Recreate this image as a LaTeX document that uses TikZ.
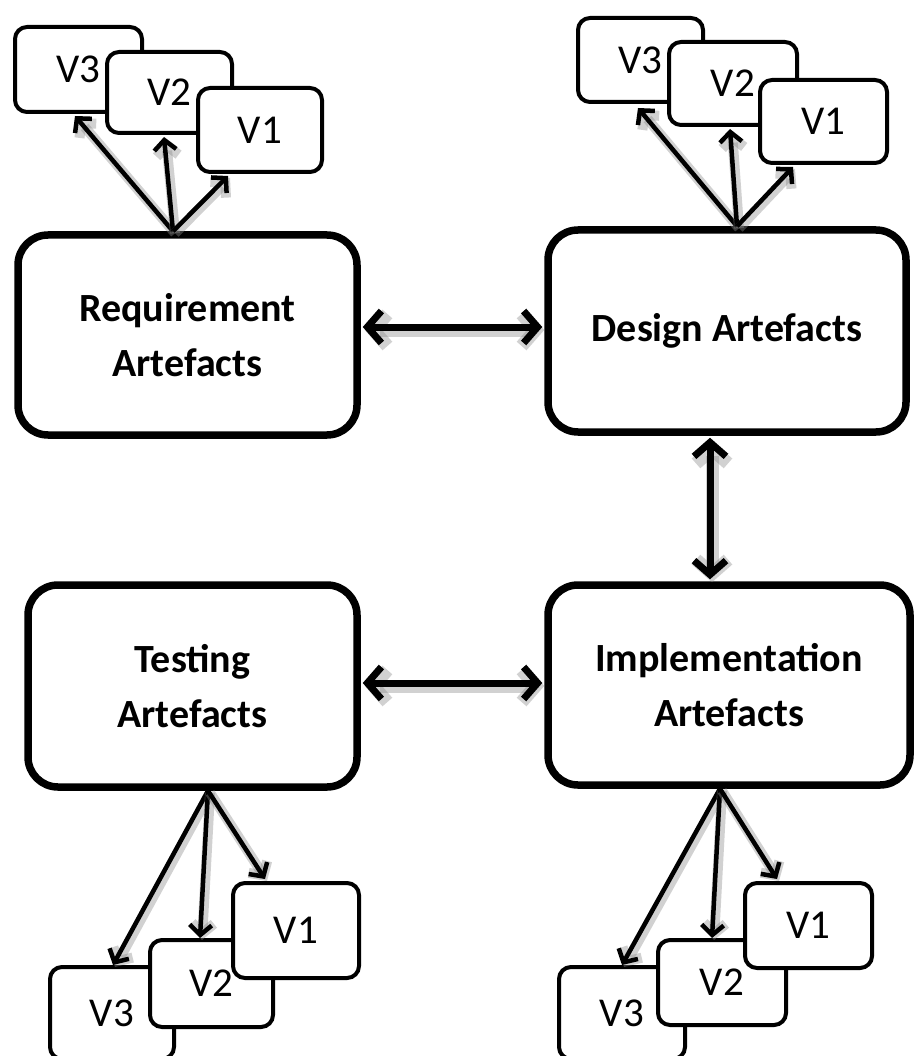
\documentclass[tikz,border=0pt]{standalone}
\usepackage{fontspec}
\setmainfont{Carlito}
\usetikzlibrary{arrows.meta}
\begin{document}
\begin{tikzpicture}[x=1pt,y=-1pt,
  artefact/.style={draw, line width=7.5pt, rounded corners=30pt, fill=white,
    align=center, inner sep=0pt, font=\bfseries\fontsize{40}{55}\selectfont},
  version/.style={draw, line width=4pt, rounded corners=12pt, fill=white,
    inner sep=0pt, font=\fontsize{41}{44}\selectfont},
  link/.style={line width=7pt, shorten <=2pt, shorten >=2pt,
    {Straight Barb[length=14pt,width=32pt]}-{Straight Barb[length=14pt,width=32pt]},
    preaction={draw=black!45, opacity=0.4, line width=13pt,
      transform canvas={shift={(2pt,-3pt)}}}},
  derive/.style={line width=4.5pt,
    -{Straight Barb[length=10pt,width=22pt]},
    preaction={draw=black!45, opacity=0.4, line width=10pt,
      transform canvas={shift={(2pt,-2pt)}}}}
]
\clip (0,0) rectangle (915,1056);
\fill[white] (0,0) rectangle (915,1056);

% main artefact groups
\node[artefact, minimum width=339pt, minimum height=200pt] (req) at (187.5,335) {Requirement\\Artefacts};
\node[artefact, minimum width=358pt, minimum height=202pt] (des) at (727,331) {Design Artefacts};
\node[artefact, minimum width=329pt, minimum height=202pt] (tst) at (192.5,686) {Testing\\Artefacts};
\node[artefact, minimum width=362pt, minimum height=200pt] (imp) at (729,685) {Implementation\\Artefacts};

% version stacks
\node[version, minimum width=127pt, minimum height=85pt] (tl3) at (78.5,69.5) {\raisebox{-3pt}{V3}};
\node[version, minimum width=125pt, minimum height=81pt] (tl2) at (169.5,92.5) {\raisebox{-3pt}{V2}};
\node[version, minimum width=124pt, minimum height=84pt] (tl1) at (260,130) {\raisebox{-3pt}{V1}};

\node[version, minimum width=125pt, minimum height=84pt] (tr3) at (640.5,60) {\raisebox{-3pt}{V3}};
\node[version, minimum width=128pt, minimum height=83pt] (tr2) at (733,83.5) {\raisebox{-3pt}{V2}};
\node[version, minimum width=127pt, minimum height=83pt] (tr1) at (823.5,121.5) {\raisebox{-3pt}{V1}};

\node[version, minimum width=124pt, minimum height=92pt] (bl3) at (112,1013) {V3};
\node[version, minimum width=123pt, minimum height=87pt] (bl2) at (211.5,983.5) {V2};
\node[version, minimum width=126pt, minimum height=95pt] (bl1) at (296,930.5) {V1};

\node[version, minimum width=126pt, minimum height=92pt] (br3) at (622,1013) {V3};
\node[version, minimum width=128pt, minimum height=85pt] (br2) at (722,982.5) {V2};
\node[version, minimum width=127pt, minimum height=85pt] (br1) at (808.5,925.5) {V1};

% fan-out origins on the artefact borders
\coordinate (rqo) at ([xshift=-14.5pt]req.north);
\coordinate (dso) at ([xshift=10pt]des.north);
\coordinate (tso) at ([xshift=15.5pt]tst.south);
\coordinate (imo) at ([xshift=-9pt]imp.south);

% versions derived from each artefact group
\draw[derive] (rqo) -- ([xshift=-3.5pt,yshift=-2pt]tl3.south);
\draw[derive] (rqo) -- ([xshift=-5.5pt,yshift=-2pt]tl2.south);
\draw[derive] (rqo) -- ([xshift=-32pt,yshift=-2pt]tl1.south);

\draw[derive] (dso) -- ([xshift=-2.5pt,yshift=-4pt]tr3.south);
\draw[derive] (dso) -- ([xshift=-3pt,yshift=-2pt]tr2.south);
\draw[derive] (dso) -- ([xshift=-30.5pt,yshift=-2pt]tr1.south);

\draw[derive] (tso) -- ([xshift=1pt]bl3.north);
\draw[derive] (tso) -- ([xshift=-11.5pt]bl2.north);
\draw[derive] (tso) -- ([xshift=-31pt,yshift=2pt]bl1.north);

\draw[derive] (imo) -- (br3.north);
\draw[derive] (imo) -- ([xshift=-10pt]br2.north);
\draw[derive] (imo) -- ([xshift=-31.5pt,yshift=2pt]br1.north);

% traceability links between groups
\draw[link] ([yshift=8pt]req.east) -- ([yshift=4pt]des.west);
\draw[link] ([xshift=-17pt]des.south) -- ([xshift=-19pt]imp.north);
\draw[link] ([yshift=3pt]tst.east) -- ([yshift=2pt]imp.west);
\end{tikzpicture}
\end{document}
